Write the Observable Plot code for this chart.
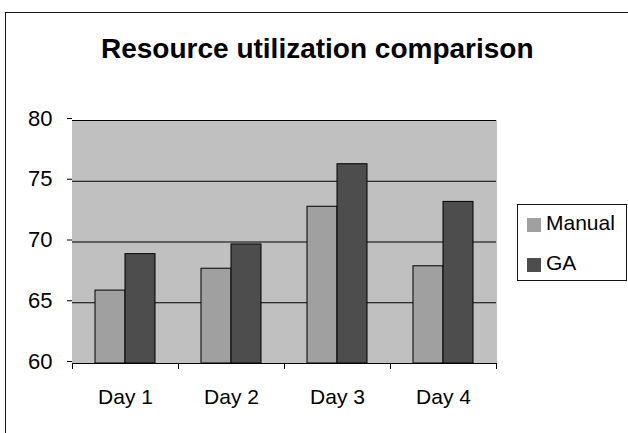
<!DOCTYPE html>
<html><head><meta charset="utf-8">
<script src="https://cdn.jsdelivr.net/npm/d3@7"></script>
<script src="https://cdn.jsdelivr.net/npm/@observablehq/plot@0.6"></script>
<style>
body{margin:0;background:#fff;font-family:"Liberation Sans",Arial,sans-serif;}
#wrap{position:relative;width:628px;height:433px;overflow:hidden;background:#fff;}
#border{position:absolute;left:5px;top:12px;width:700px;height:500px;border-left:1px solid #111;border-top:1px solid #111;}
#chart{position:absolute;left:0;top:0;}
#title{position:absolute;left:101px;top:35px;font-weight:bold;font-size:28px;line-height:28px;white-space:nowrap;color:#000;}
#legend{position:absolute;left:517px;top:204px;width:110px;height:77px;border:1px solid #111;box-sizing:border-box;}
.item{position:absolute;font-size:21px;line-height:21px;white-space:nowrap;color:#000;}
.sw{position:absolute;width:14px;height:14px;}
</style></head>
<body>
<div id="wrap">
  <div id="border"></div>
  <div id="chart"></div>
  <div id="title">Resource utilization comparison</div>
  <div id="legend"></div>
</div>
<script>
const days = ["Day 1", "Day 2", "Day 3", "Day 4"];
const seriesNames = ["Manual", "GA"];
const manual = [66, 67.8, 72.9, 68];
const ga = [69, 69.8, 76.4, 73.3];
const seriesColors = ["#a0a0a0", "#4d4d4d"];
const yTicks = [60, 65, 70, 75, 80];

const data = days.flatMap((d, i) => [
  {day: d, series: "Manual", value: manual[i]},
  {day: d, series: "GA", value: ga[i]}
]);

const chart = Plot.plot({
  width: 628, height: 433,
  marginLeft: 70, marginRight: 131, marginTop: 120, marginBottom: 70,
  style: {fontFamily: "'Liberation Sans', Arial, sans-serif", fontSize: "21px", color: "#000", background: "transparent", overflow: "visible"},
  fx: {domain: days, padding: 0, label: null},
  x: {domain: seriesNames, paddingInner: 0, paddingOuter: 0.75, axis: null},
  y: {domain: [60, 80], axis: null},
  color: {domain: seriesNames, range: seriesColors},
  marks: [
    Plot.frame({fill: "#c0c0c0", stroke: "#c0c0c0"}),
    Plot.gridY(yTicks.slice(1), {stroke: "#000", strokeOpacity: 1}),
    Plot.barY(data, {fx: "day", x: "series", y1: 60, y2: "value", fill: "series", stroke: "#000", strokeWidth: 1}),
    Plot.ruleY([60], {stroke: "#000"}),
    Plot.axisY({ticks: yTicks, tickSize: 5, tickPadding: 15, line: true, label: null, dy: -2, stroke: "#000", fontSize: 22}),
    Plot.axisY({anchor: "right", ticks: [], line: true, label: null, stroke: "#808080"}),
    Plot.axisFx({anchor: "bottom", tickSize: 0, tickPadding: 26, label: null, fontSize: 21}),
    Plot.frame({anchor: "left", insetTop: 243, insetBottom: -5, stroke: "#000"}),
    Plot.frame({anchor: "right", insetTop: 243, insetBottom: -5, stroke: "#000"})
  ]
});
document.getElementById("chart").appendChild(chart);

const legend = document.getElementById("legend");
seriesNames.forEach((name, i) => {
  const sw = document.createElement("div");
  sw.className = "sw";
  sw.style.left = "9px";
  sw.style.top = (13 + i * 40) + "px";
  sw.style.background = seriesColors[i];
  legend.appendChild(sw);
  const t = document.createElement("div");
  t.className = "item";
  t.style.left = "28px";
  t.style.top = (7 + i * 40) + "px";
  t.textContent = name;
  legend.appendChild(t);
});
</script>
</body></html>
